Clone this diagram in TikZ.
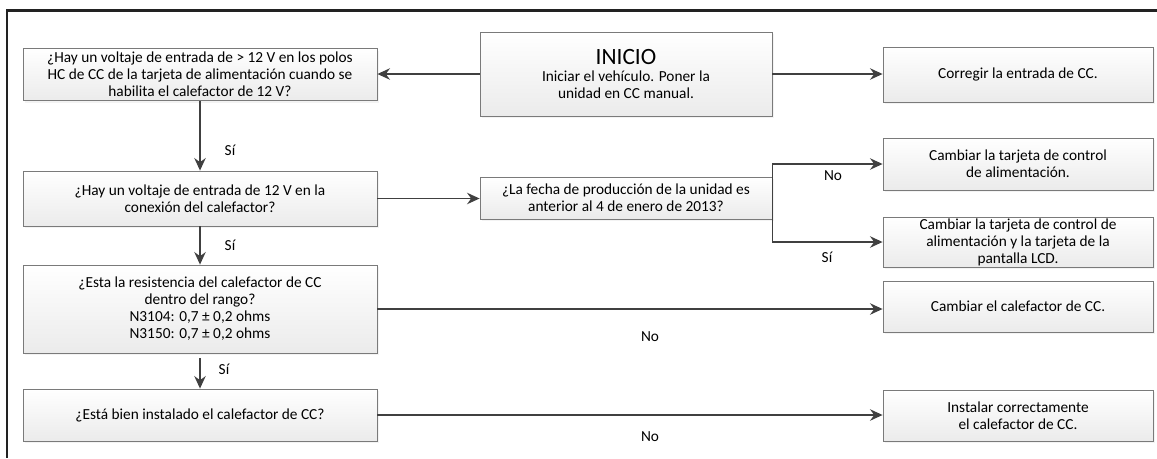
\documentclass[tikz,border=0pt]{standalone}
\usepackage{fontspec}
\setmainfont{Carlito}
\usepackage{tikz}
\usetikzlibrary{arrows.meta,positioning,shadows}
\definecolor{linex}{HTML}{404040}
\definecolor{edgex}{HTML}{7A7A7A}
\definecolor{framex}{HTML}{222222}
\definecolor{botx}{HTML}{EBEBEB}
\tikzset{
  ar/.style={-{Stealth[length=3.3mm,width=3mm]},line width=1.3pt,linex},
  box/.style={draw=edgex,line width=0.6pt,top color=white,bottom color=botx,align=center,inner sep=1pt,
    font=\fontsize{11.5}{12.8}\selectfont,
    drop shadow={shadow xshift=1.5pt,shadow yshift=-1.5pt,fill=gray!18}},
  qbox/.style={box,minimum width=265.5pt},
  mbox/.style={box,minimum width=219pt},
  rbox/.style={box,minimum width=202.5pt},
  lbl/.style={font=\fontsize{11.5}{12.8}\selectfont,inner sep=1pt}
}

\begin{document}
\begin{tikzpicture}[x=0.75pt,y=-0.75pt]
\useasboundingbox (0,0) rectangle (1157,458);
\draw[line width=1.6pt,framex] (1157,10.5) -- (7,10.5) -- (7,458);
% top row
\node[mbox,minimum height=63pt] (inicio) at (626,74)
  {{\fontsize{17.5}{20}\selectfont INICIO}\\Iniciar el vehículo. Poner la\\unidad en CC manual.};
\node[qbox,minimum height=39pt] (q1) at (200,74.5)
  {¿Hay un voltaje de entrada de > 12 V en los polos\\HC de CC de la tarjeta de alimentación cuando se\\habilita el calefactor de 12 V?};
\node[rbox,minimum height=41.25pt] (fixin) at (1018,74.5) {Corregir la entrada de CC.};
% left column
\node[qbox,minimum height=41.25pt] (q2) at (200,198.5)
  {¿Hay un voltaje de entrada de 12 V en la\\conexión del calefactor?};
\node[qbox,minimum height=66pt] (q3) at (200,309)
  {¿Esta la resistencia del calefactor de CC\\dentro del rango?\\N3104: 0,7 ± 0,2 ohms\\N3150: 0,7 ± 0,2 ohms};
\node[qbox,minimum height=39pt] (q4) at (200,415) {¿Está bien instalado el calefactor de CC?};
% middle and right
\node[mbox,minimum height=31.5pt] (qdate) at (626,198)
  {¿La fecha de producción de la unidad es\\anterior al 4 de enero de 2013?};
\node[rbox,minimum height=39pt] (chg1) at (1018,164)
  {Cambiar la tarjeta de control\\de alimentación.};
\node[rbox,minimum height=37.5pt] (chg2) at (1018,242)
  {Cambiar la tarjeta de control de\\alimentación y la tarjeta de la\\pantalla LCD.};
\node[rbox,minimum height=38.25pt] (heat) at (1018,306.5) {Cambiar el calefactor de CC.};
\node[rbox,minimum height=38.25pt] (inst) at (1018,415.5)
  {Instalar correctamente\\el calefactor de CC.};
% connectors
\draw[ar] (inicio.west) -- (inicio.west -| q1.east);
\draw[ar] (inicio.east) -- (inicio.east -| fixin.west);
\draw[ar] (q1.south) -- (q2.north);
\draw[ar] (q2.south) -- (q3.north);
\draw[ar,shorten <=3.75pt] (q3.south) -- (q4.north);
\draw[ar] (q2.east) -- (q2.east -| qdate.west);
\draw[ar] (qdate.east) |- (chg1.west);
\draw[ar] (qdate.east) |- (chg2.west);
\draw[ar] (q3.east) -- (q3.east -| heat.west);
\draw[ar] (q4.east) -- (q4.east -| inst.west);
% labels
\node[lbl] (s1) at (230,150) {Sí};
\node[lbl] (s2) at (230,245) {Sí};
\node[lbl] (s3) at (224,369) {Sí};
\node[lbl] (n1) at (833,176) {No};
\node[lbl] (s4) at (827,257) {Sí};
\node[lbl] (n2) at (650,337) {No};
\node[lbl] (n3) at (650,437) {No};
\end{tikzpicture}
\end{document}
